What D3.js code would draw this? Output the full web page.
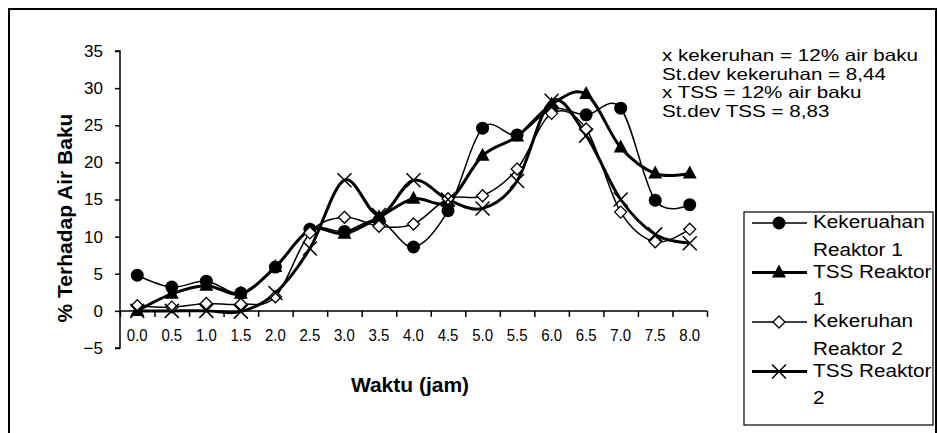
<!DOCTYPE html>
<html>
<head>
<meta charset="utf-8">
<script src="https://cdn.jsdelivr.net/npm/d3@7/dist/d3.min.js"></script>
<style>
  html, body { margin: 0; padding: 0; background: #fff; }
  svg { display: block; font-family: "Liberation Sans", Arial, sans-serif; }
</style>
</head>
<body>
<svg id="chart" width="938" height="433"></svg>
<script>
const categories = ["0.0","0.5","1.0","1.5","2.0","2.5","3.0","3.5","4.0","4.5","5.0","5.5","6.0","6.5","7.0","7.5","8.0"];
const kekeruhanR1 = [4.8, 3.2, 4.0, 2.4, 5.9, 11.0, 10.7, 12.2, 8.6, 13.5, 24.6, 23.7, 27.2, 26.4, 27.3, 14.9, 14.3];
const tssR1       = [0.0, 2.3, 3.4, 2.3, 5.9, 10.9, 10.4, 12.6, 15.1, 14.7, 20.9, 23.5, 27.8, 29.2, 22.0, 18.5, 18.5];
const kekeruhanR2 = [0.7, 0.5, 1.0, 0.9, 1.9, 10.5, 12.6, 11.4, 11.7, 15.1, 15.5, 19.1, 26.6, 24.5, 13.3, 9.3, 11.0];
const tssR2       = [0.0, 0.0, 0.0, -0.1, 2.4, 8.4, 17.6, 12.9, 17.6, 15.0, 13.8, 17.5, 28.3, 23.6, 15.0, 10.3, 9.1];
const yTicks = [-5, 0, 5, 10, 15, 20, 25, 30, 35];
const seriesNames = [["Kekeruahan", "Reaktor 1"], ["TSS Reaktor", "1"], ["Kekeruhan", "Reaktor 2"], ["TSS Reaktor", "2"]];
const noteLines = ["x kekeruhan = 12% air baku", "St.dev kekeruhan = 8,44", "x TSS = 12% air baku", "St.dev TSS = 8,83"];
const xTitle = "Waktu (jam)";
const yTitle = "% Terhadap Air Baku";

const svg = d3.select("#chart");
const pLeft = 120, pRight = 707, pTop = 51, pBottom = 348;
const FONT = "Liberation Sans, Arial, sans-serif";

// stretched text helper
function stext(parent, tx, ty, sx, str, size, opts = {}) {
  const g = parent.append("g").attr("transform", `translate(${tx},${ty}) scale(${sx},1)`);
  const t = g.append("text").attr("x", 0).attr("y", 0).attr("font-size", size)
    .attr("font-family", FONT).attr("fill", "#000").text(str);
  if (opts.anchor) t.attr("text-anchor", opts.anchor);
  if (opts.bold) t.attr("font-weight", "bold");
  return t;
}

// outer frame
svg.append("rect").attr("x", 9).attr("y", 9).attr("width", 927).attr("height", 440)
  .attr("fill", "none").attr("stroke", "#000").attr("stroke-width", 2);

const x = d3.scaleBand().domain(categories).range([pLeft, pRight]).padding(0);
const xb = d3.scaleLinear().domain([0, categories.length]).range([pLeft, pRight]);
const y = d3.scaleLinear().domain([-5, 35]).range([pBottom, pTop]);

// y axis
const gy = svg.append("g").attr("transform", `translate(${pLeft},0)`)
  .call(d3.axisLeft(y).tickValues(yTicks).tickSize(5).tickPadding(12).tickFormat(d3.format("d")));
gy.select(".domain").attr("stroke", "#000").attr("stroke-width", 1.5).attr("d", `M-5,${y(-5)}H0V${y(35)}H-5`);
gy.selectAll(".tick line").attr("stroke", "#000").attr("stroke-width", 1.5);
gy.selectAll("text").attr("font-size", 17).attr("fill", "#000").attr("font-family", FONT);

// x axis at y=0: boundary ticks
const gxb = svg.append("g").attr("transform", `translate(0,${y(0)})`)
  .call(d3.axisBottom(xb).tickValues(d3.range(categories.length + 1)).tickSize(6).tickFormat(""));
gxb.select(".domain").attr("stroke", "#000").attr("stroke-width", 1.5).attr("d", `M${pLeft},0H${pRight}`);
gxb.selectAll(".tick line").attr("stroke", "#000").attr("stroke-width", 1.5);

// x labels (slightly condensed)
const gx = svg.append("g").attr("transform", `translate(0,${y(0)})`)
  .call(d3.axisBottom(x).tickSize(0).tickPadding(18));
gx.select(".domain").remove();
gx.selectAll(".tick text")
  .attr("font-size", 17).attr("fill", "#000").attr("font-family", FONT)
  .attr("transform", "scale(0.88,1)");

// titles
stext(svg, 410, 392, 1.05, xTitle, 20, { anchor: "middle", bold: true });
svg.append("text").attr("transform", "translate(72,218) rotate(-90)").attr("text-anchor", "middle")
  .attr("font-weight", "bold").attr("font-size", 21).attr("font-family", FONT).text(yTitle);

// notes
noteLines.forEach((d, i) => stext(svg, 662, 61 + i * 18.5, 1.25, d, 16.5));

const line = d3.line().x((d, i) => x(categories[i]) + x.bandwidth() / 2).y(d => y(d))
  .curve(d3.curveCatmullRom.alpha(0));

const series = [
  { data: kekeruhanR1, width: 1.5, marker: "circle" },
  { data: tssR1, width: 3, marker: "triangle" },
  { data: kekeruhanR2, width: 1.5, marker: "diamond" },
  { data: tssR2, width: 3, marker: "x" }
];

function drawMarker(g, type, cx, cy) {
  if (type === "circle") {
    g.append("circle").attr("cx", cx).attr("cy", cy).attr("r", 6.5).attr("fill", "#000");
  } else if (type === "triangle") {
    g.append("path").attr("d", `M${cx},${cy - 8}L${cx + 7},${cy + 5}L${cx - 7},${cy + 5}Z`).attr("fill", "#000");
  } else if (type === "diamond") {
    g.append("path").attr("d", `M${cx},${cy - 6}L${cx + 6},${cy}L${cx},${cy + 6}L${cx - 6},${cy}Z`)
      .attr("fill", "#fff").attr("stroke", "#000").attr("stroke-width", 1.3);
  } else {
    g.append("path").attr("d", `M${cx - 7},${cy - 7}L${cx + 7},${cy + 7}M${cx + 7},${cy - 7}L${cx - 7},${cy + 7}`)
      .attr("stroke", "#000").attr("stroke-width", 1.5).attr("fill", "none");
  }
}

series.forEach(s => {
  svg.append("path").datum(s.data).attr("d", line).attr("fill", "none")
    .attr("stroke", "#000").attr("stroke-width", s.width).attr("stroke-linejoin", "round");
});
series.forEach(s => {
  const g = svg.append("g");
  s.data.forEach((v, i) => drawMarker(g, s.marker, x(categories[i]) + x.bandwidth() / 2, y(v)));
});

// legend
svg.append("rect").attr("x", 744).attr("y", 212).attr("width", 189).attr("height", 213)
  .attr("fill", "#fff").attr("stroke", "#000").attr("stroke-width", 1.2);
series.forEach((s, i) => {
  const g = svg.append("g");
  const base = 228 + i * 49.5;
  const ly = base - 5;
  g.append("line").attr("x1", 752).attr("x2", 807).attr("y1", ly).attr("y2", ly)
    .attr("stroke", "#000").attr("stroke-width", s.width);
  drawMarker(g, s.marker, 779, ly);
  stext(g, 813, base, 1.12, seriesNames[i][0], 18.5);
  stext(g, 813, base + 27.5, 1.12, seriesNames[i][1], 18.5);
});
</script>
</body>
</html>
